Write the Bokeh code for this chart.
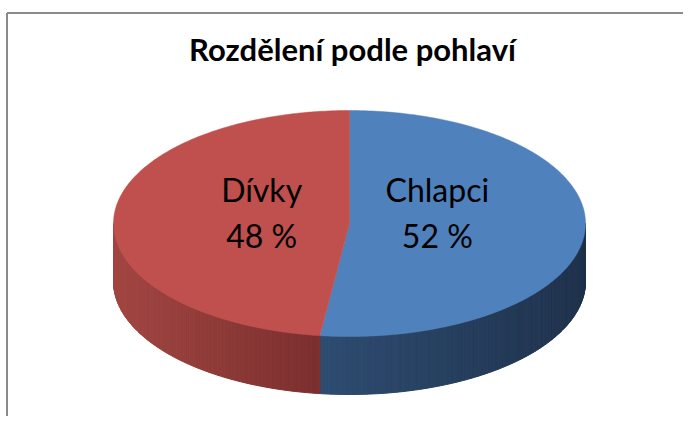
import numpy as np
from bokeh.plotting import figure
from bokeh.models import Range1d
from bokeh.core.properties import value
from bokeh.embed import file_html
from bokeh.resources import INLINE

# ---- data ----
title_text = "Rozdělení podle pohlaví"
categories = ["Chlapci", "Dívky"]
percentages = [52, 48]
top_colors = ["#4F81BD", "#C0504D"]
side_left_colors = [(46, 76, 113), (162, 70, 66)]
side_right_colors = [(31, 50, 76), (122, 47, 46)]

# ---- geometry (pixel coordinates) ----
cx, cy = 349.0, 223.0
rx, ry = 236.0, 113.0
depth = 58.0
label_k = 0.373

W, H = 683, 416
p = figure(width=W, height=H, output_backend="svg", toolbar_location=None,
           x_range=Range1d(0, W), y_range=Range1d(H, 0),
           min_border=0, outline_line_color=None)
p.axis.visible = False
p.grid.visible = False
p.background_fill_color = "white"
p.border_fill_color = "white"

# chart border (top and left, as visible in reference)
p.line([6.5, W], [12.5, 12.5], line_color="#8a8a8a", line_width=2)
p.line([6.5, 6.5], [12.5, H], line_color="#8a8a8a", line_width=2)


def pt(phi_deg, dy=0.0):
    a = np.radians(phi_deg)
    return cx + rx * np.sin(a), cy - ry * np.cos(a) + dy


total = float(sum(percentages))
starts, ends = [], []
acc = 0.0
for v in percentages:
    starts.append(acc)
    acc += v / total * 360.0
    ends.append(acc)

# ---- sides (front half only: 90..270 degrees clockwise from top) ----
sxs, sys_, scol = [], [], []
for i in range(len(percentages)):
    lo = max(starts[i], 90.0)
    hi = min(ends[i], 270.0)
    if hi <= lo:
        continue
    n = max(4, int((hi - lo) * 1.5))
    angs = np.linspace(lo, hi, n + 1)
    xl = pt(hi)[0]
    xr = pt(lo)[0]
    for j in range(n):
        x0, y0 = pt(angs[j])
        x1, y1 = pt(angs[j + 1])
        xm = 0.5 * (x0 + x1)
        t = (xm - xl) / (xr - xl) if xr != xl else 0.0
        c0 = np.array(side_left_colors[i], float)
        c1 = np.array(side_right_colors[i], float)
        c = (1 - t) * c0 + t * c1
        col = "#%02x%02x%02x" % tuple(int(round(k)) for k in c)
        sxs.append([x0, x1, x1, x0])
        sys_.append([y0, y1, y1 + depth, y0 + depth])
        scol.append(col)
p.patches(sxs, sys_, fill_color=scol, line_color=scol, line_width=1)

# ---- top faces ----
txs, tys = [], []
for i in range(len(percentages)):
    angs = np.linspace(starts[i], ends[i], 200)
    xs = [cx] + [pt(a)[0] for a in angs]
    ys = [cy] + [pt(a)[1] for a in angs]
    txs.append(xs)
    tys.append(ys)
p.patches(txs, tys, fill_color=top_colors, line_color=top_colors, line_width=0.5)

# ---- labels ----
lx, ly1, ly2, t1, t2 = [], [], [], [], []
for i, name in enumerate(categories):
    mid = 0.5 * (starts[i] + ends[i])
    x = cx + label_k * rx * np.sin(np.radians(mid))
    lx.append(x)
    ly1.append(cy - 34)
    ly2.append(cy + 12)
    t1.append(name)
    t2.append("%d %%" % percentages[i])
p.text(lx, ly1, text=t1, text_font=value("Lato"), text_font_size="32px",
       text_align="center", text_baseline="alphabetic", text_color="black")
p.text(lx, ly2, text=t2, text_font=value("Lato"), text_font_size="32px",
       text_align="center", text_baseline="alphabetic", text_color="black")

# ---- title ----
p.text([352], [48], text=[title_text], text_font=value("Lato"), text_font_size="31px",
       text_font_style="bold", text_align="center", text_baseline="alphabetic",
       text_color="black")

open("out.html", "w").write(file_html(p, INLINE))
